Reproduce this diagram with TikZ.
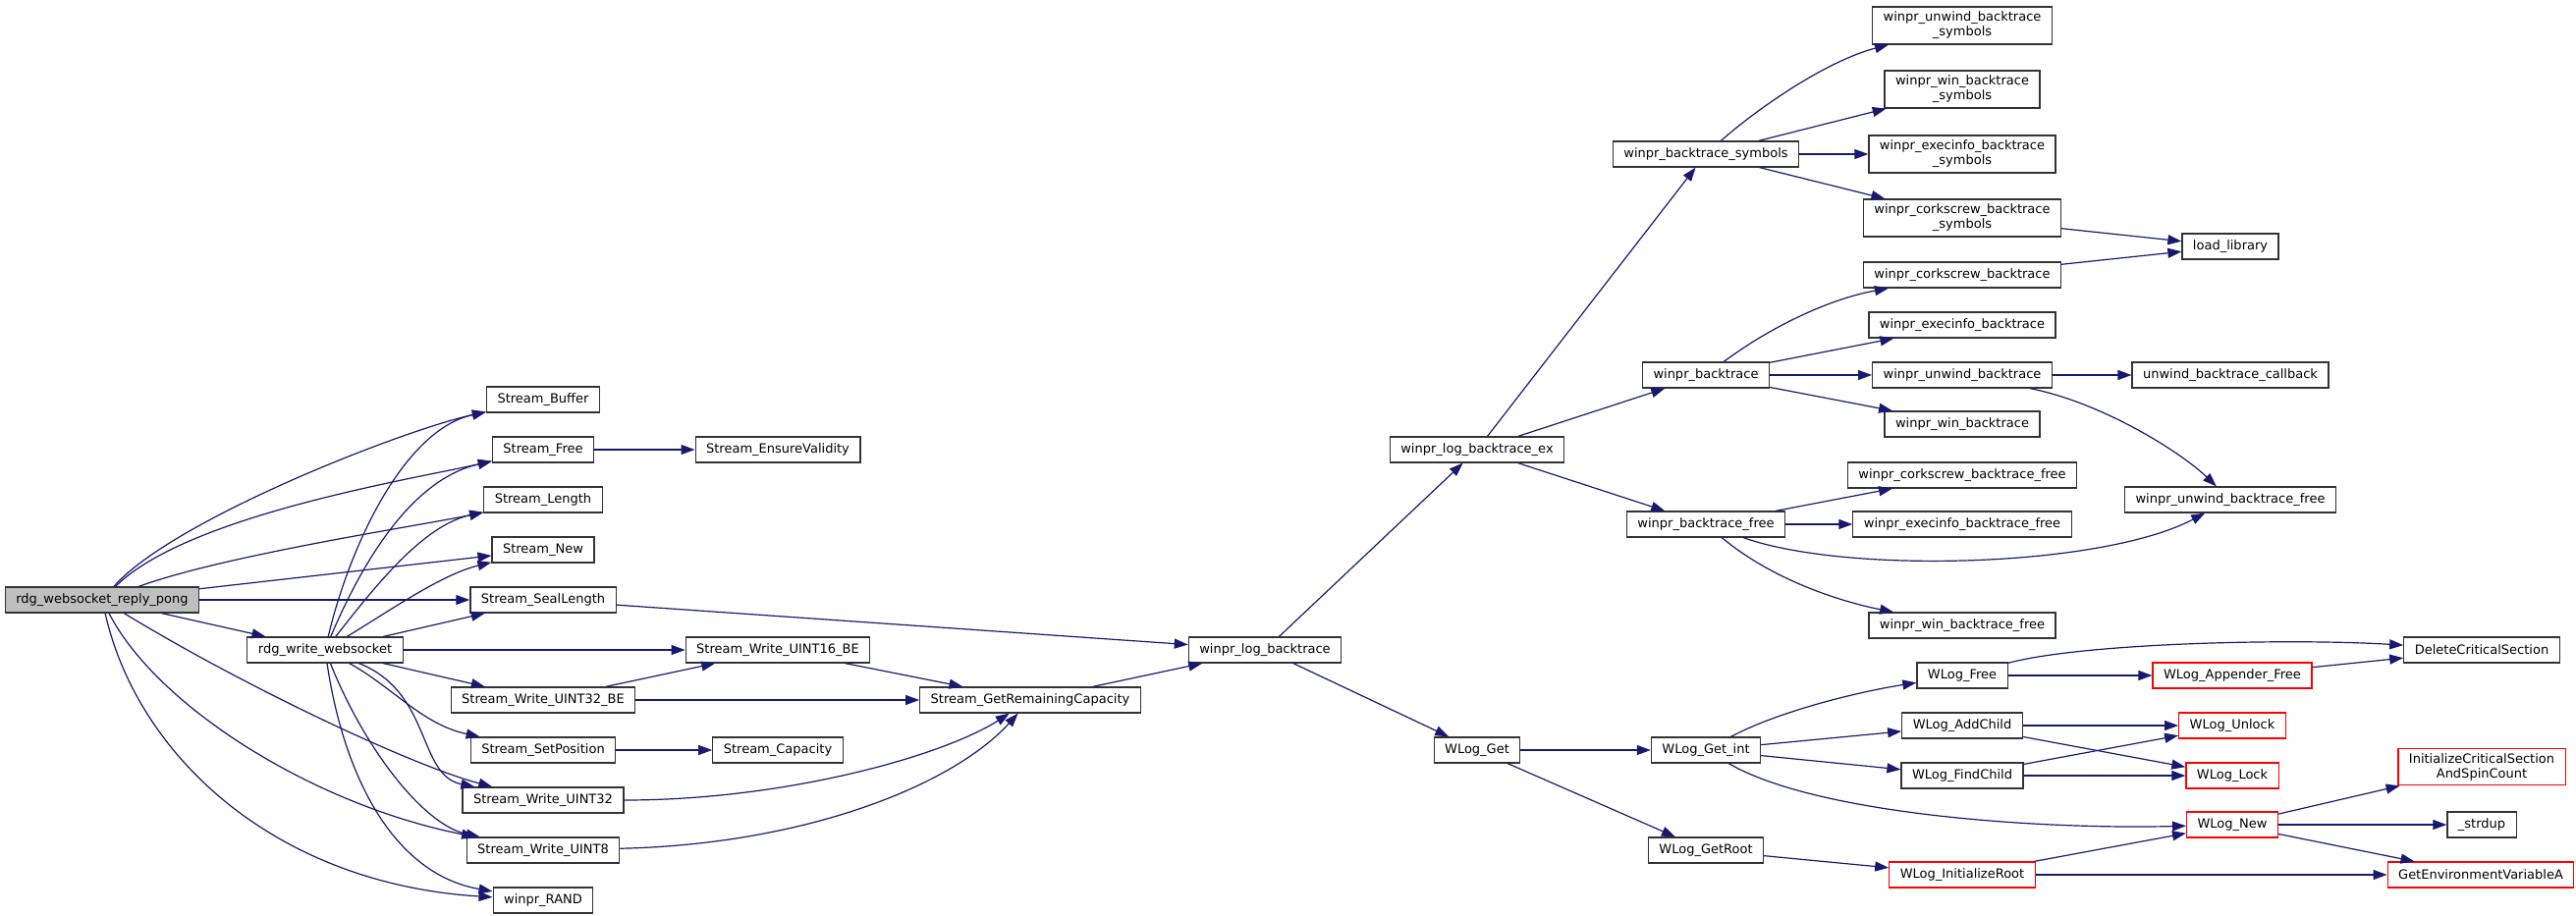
\documentclass[tikz,border=0pt]{standalone}
\usepackage{fontspec}
\setmainfont{DejaVu Sans}
\usetikzlibrary{arrows.meta}
\definecolor{edgeblue}{HTML}{191970}
\definecolor{boxgray}{HTML}{BFBFBF}

\begin{document}
\begin{tikzpicture}[x=1pt, y=-1pt,
    fn/.style={draw=black!80, line width=1.2pt, fill=white, font=\fontsize{13}{15}\selectfont, inner xsep=11pt, inner ysep=5pt, minimum height=26pt, align=center},
    fnred/.style={fn, draw=red},
    edge/.style={draw=edgeblue, line width=1.2pt, -{Triangle[length=14pt,width=10pt]}}]

    \useasboundingbox (0,0) rectangle (2623,933);

    \node[fn, fill=boxgray] (1) at (104,611) {rdg\_websocket\_reply\_pong};
    \node[fn] (2) at (331,662) {rdg\_write\_websocket};

    \node[fn] (3) at (553,407) {Stream\_Buffer};
    \node[fn] (4) at (553,458) {Stream\_Free};
    \node[fn] (5) at (553,509) {Stream\_Length};
    \node[fn] (6) at (553,560) {Stream\_New};
    \node[fn] (7) at (553,611) {Stream\_SealLength};
    \node[fn] (8) at (553,713) {Stream\_Write\_UINT32\_BE};
    \node[fn] (9) at (553,764) {Stream\_SetPosition};
    \node[fn] (10) at (553,815) {Stream\_Write\_UINT32};
    \node[fn] (11) at (553,866) {Stream\_Write\_UINT8};
    \node[fn] (12) at (553,917) {winpr\_RAND};

    \node[fn] (13) at (792,458) {Stream\_EnsureValidity};
    \node[fn] (14) at (792,662) {Stream\_Write\_UINT16\_BE};
    \node[fn] (15) at (792,764) {Stream\_Capacity};
    \node[fn] (16) at (1049,713) {Stream\_GetRemainingCapacity};
    \node[fn] (17) at (1288,662) {winpr\_log\_backtrace};

    \node[fn] (18) at (1504,458) {winpr\_log\_backtrace\_ex};
    \node[fn] (19) at (1504,764) {WLog\_Get};

    \node[fn] (20) at (1737,157) {winpr\_backtrace\_symbols};
    \node[fn] (21) at (1737,382) {winpr\_backtrace};
    \node[fn] (22) at (1737,534) {winpr\_backtrace\_free};
    \node[fn] (23) at (1737,764) {WLog\_Get\_int};
    \node[fn] (24) at (1737,866) {WLog\_GetRoot};

    \node[fn] (25) at (1998,26) {winpr\_unwind\_backtrace\\\_symbols};
    \node[fn] (26) at (1998,91) {winpr\_win\_backtrace\\\_symbols};
    \node[fn] (27) at (1998,157) {winpr\_execinfo\_backtrace\\\_symbols};
    \node[fn] (28) at (1998,222) {winpr\_corkscrew\_backtrace\\\_symbols};
    \node[fn] (29) at (1998,280) {winpr\_corkscrew\_backtrace};
    \node[fn] (30) at (1998,331) {winpr\_execinfo\_backtrace};
    \node[fn] (31) at (1998,382) {winpr\_unwind\_backtrace};
    \node[fn] (32) at (1998,432) {winpr\_win\_backtrace};
    \node[fn] (33) at (1998,484) {winpr\_corkscrew\_backtrace\_free};
    \node[fn] (34) at (1998,534) {winpr\_execinfo\_backtrace\_free};
    \node[fn] (35) at (1998,637) {winpr\_win\_backtrace\_free};
    \node[fn] (36) at (1998,688) {WLog\_Free};
    \node[fn] (37) at (1998,739) {WLog\_AddChild};
    \node[fn] (38) at (1998,790) {WLog\_FindChild};
    \node[fnred] (39) at (1998,891) {WLog\_InitializeRoot};

    \node[fn] (40) at (2271,251) {load\_library};
    \node[fn] (41) at (2271,382) {unwind\_backtrace\_callback};
    \node[fn] (42) at (2271,509) {winpr\_unwind\_backtrace\_free};
    \node[fnred] (43) at (2273,688) {WLog\_Appender\_Free};
    \node[fnred] (44) at (2273,739) {WLog\_Unlock};
    \node[fnred] (45) at (2273,790) {WLog\_Lock};
    \node[fnred] (46) at (2273,840) {WLog\_New};

    \node[fn] (47) at (2527,662) {DeleteCriticalSection};
    \node[fnred] (48) at (2527,781) {InitializeCriticalSection\\AndSpinCount};
    \node[fn] (49) at (2527,840) {\_strdup};
    \node[fnred] (50) at (2526,891) {GetEnvironmentVariableA};

    \draw[edge] (1) .. controls (175,530) and (410,438) .. (3);
    \draw[edge] (1) .. controls (190,525) and (420,488) .. (4);
    \draw[edge] (1) .. controls (230,565) and (430,535) .. (5);
    \draw[edge] (1) -- (6);
    \draw[edge] (1) -- (7);
    \draw[edge] (1) -- (2);
    \draw[edge] (1) .. controls (250,700) and (420,780) .. (10);
    \draw[edge] (1) .. controls (160,720) and (320,820) .. (11);
    \draw[edge] (1) .. controls (140,770) and (280,900) .. (12);

    \draw[edge] (2) .. controls (355,560) and (410,438) .. (3);
    \draw[edge] (2) .. controls (370,570) and (420,488) .. (4);
    \draw[edge] (2) .. controls (380,600) and (430,535) .. (5);
    \draw[edge] (2) .. controls (400,620) and (450,585) .. (6);
    \draw[edge] (2) -- (7);
    \draw[edge] (2) -- (14);
    \draw[edge] (2) -- (8);
    \draw[edge] (2) .. controls (400,700) and (430,738) .. (9);
    \draw[edge] (2) .. controls (440,705) and (425,790) .. (10);
    \draw[edge] (2) .. controls (370,760) and (430,840) .. (11);
    \draw[edge] (2) .. controls (350,790) and (400,890) .. (12);

    \draw[edge] (4) -- (13);
    \draw[edge] (7) -- (17);
    \draw[edge] (8) -- (14);
    \draw[edge] (8) -- (16);
    \draw[edge] (14) -- (16);
    \draw[edge] (9) -- (15);
    \draw[edge] (10) .. controls (800,815) and (960,770) .. (16);
    \draw[edge] (11) .. controls (820,860) and (970,800) .. (16);
    \draw[edge] (16) -- (17);
    \draw[edge] (17) -- (18);
    \draw[edge] (17) -- (19);

    \draw[edge] (18) -- (20);
    \draw[edge] (18) -- (21);
    \draw[edge] (18) -- (22);
    \draw[edge] (20) .. controls (1790,110) and (1860,62) .. (25);
    \draw[edge] (20) -- (26);
    \draw[edge] (20) -- (27);
    \draw[edge] (20) -- (28);
    \draw[edge] (28) -- (40);
    \draw[edge] (29) -- (40);
    \draw[edge] (21) .. controls (1800,335) and (1860,305) .. (29);
    \draw[edge] (21) -- (30);
    \draw[edge] (21) -- (31);
    \draw[edge] (21) -- (32);
    \draw[edge] (31) -- (41);
    \draw[edge] (31) .. controls (2140,410) and (2220,460) .. (42);
    \draw[edge] (22) -- (33);
    \draw[edge] (22) -- (34);
    \draw[edge] (22) .. controls (1880,585) and (2140,578) .. (42);
    \draw[edge] (22) .. controls (1810,595) and (1885,615) .. (35);

    \draw[edge] (19) -- (23);
    \draw[edge] (19) -- (24);
    \draw[edge] (23) .. controls (1810,725) and (1890,705) .. (36);
    \draw[edge] (23) -- (37);
    \draw[edge] (23) -- (38);
    \draw[edge] (23) .. controls (1850,830) and (2080,845) .. (46);
    \draw[edge] (24) -- (39);
    \draw[edge] (36) .. controls (2120,655) and (2330,650) .. (47);
    \draw[edge] (36) -- (43);
    \draw[edge] (43) -- (47);
    \draw[edge] (37) -- (44);
    \draw[edge] (37) -- (45);
    \draw[edge] (38) -- (44);
    \draw[edge] (38) -- (45);
    \draw[edge] (46) -- (48);
    \draw[edge] (46) -- (49);
    \draw[edge] (46) -- (50);
    \draw[edge] (39) -- (46);
    \draw[edge] (39) -- (50);

\end{tikzpicture}
\end{document}
